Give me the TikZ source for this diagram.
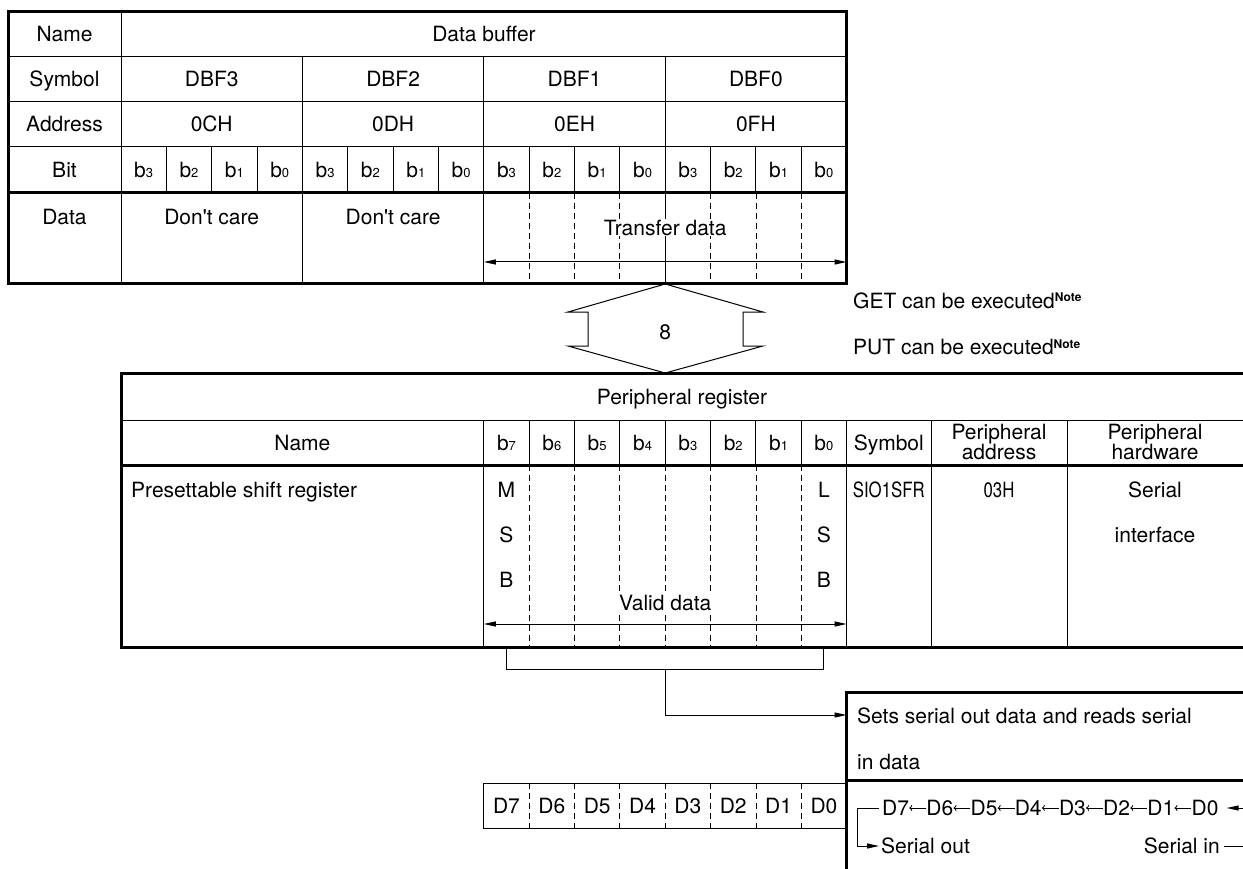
\documentclass[tikz,border=0pt]{standalone}
\usepackage{fontspec}
\setmainfont{TeX Gyre Heros}
\usetikzlibrary{arrows.meta}
\newcommand{\bitsub}[1]{b{\fontsize{13}{13}\selectfont #1}}
\newcommand{\notemark}{\raisebox{6.5pt}{\fontsize{12}{12}\selectfont\bfseries Note}}
\begin{document}
\begin{tikzpicture}[x=1pt,y=-1pt,font=\fontsize{21}{21}\selectfont,
  lbl/.style={inner sep=0pt,text height=15pt,text depth=0pt},
  twoline/.style={align=center,inner sep=0pt,anchor=north,font=\fontsize{21}{20}\selectfont},
  thinrule/.style={line width=1pt},
  thickrule/.style={line width=3pt},
  dashrule/.style={line width=0.8pt,dash pattern=on 6pt off 4pt},
  shiftarrow/.style={line width=0.8pt,-{To[length=3pt,width=6pt]}},
  >={Triangle[length=12pt,width=5pt]}]
\useasboundingbox (0,0) rectangle (1243,869);
\def\w{45.35}
% data buffer
\draw[thinrule] (8,57) -- (846.6,57) (8,102) -- (846.6,102) (8,147) -- (846.6,147) (121,12) -- (121,284);
\foreach \k in {1,2,3} \draw[thinrule] (121+\k*4*\w,57) -- (121+\k*4*\w,284);
\foreach \k in {1,...,15} \draw[thinrule] (121+\k*\w,147) -- (121+\k*\w,193);
\foreach \k in {9,10,11,13,14,15} \draw[dashrule] (121+\k*\w,193) -- (121+\k*\w,284);
\draw[thickrule] (8,193) -- (846.6,193);
\draw[thickrule] (8,12) rectangle (846.6,284);
\node[lbl] (bufname) at (64.5,34.5) {Name};
\node[lbl] (bufhead) at (484,34.5) {Data buffer};
\node[lbl] (bufsym) at (64.5,79.5) {Symbol};
\node[lbl] (bufadr) at (64.5,124.5) {Address};
\node[lbl] (bufbit) at (64.5,170) {Bit};
\node[lbl] (bufdata) at (64.5,217) {Data};
\foreach \s/\a [count=\i from 0] in {DBF3/0CH,DBF2/0DH,DBF1/0EH,DBF0/0FH} {
  \node[lbl] (dbf\i) at (121+\i*4*\w+2*\w,79.5) {\s};
  \node[lbl] (adr\i) at (121+\i*4*\w+2*\w,124.5) {\a};
  \foreach \b [count=\j from 0] in {3,2,1,0}
    \node[lbl] (bit\i\j) at (121+\i*4*\w+\j*\w+\w/2,170) {\bitsub{\b}};
}
\node[lbl] (care3) at (121+2*\w,217) {Don\textquotesingle t care};
\node[lbl] (care2) at (121+6*\w,217) {Don\textquotesingle t care};
\node[lbl,fill=white,inner sep=1pt] (xfer) at (665.2,228) {Transfer data};
\coordinate (xferL) at (483.8,262);
\coordinate (xferR) at (846.6,262);
\draw[thinrule,<->] (xferL) -- (xferR);
% 8-bit transfer
\draw[thinrule] (665.2,284) -- (568,312) -- (588,312) -- (588,346) -- (568,346) -- (665.2,373)
  -- (763,346) -- (743,346) -- (743,312) -- (763,312) -- cycle;
\node[lbl] (width) at (665.2,332) {8};
\node[lbl,anchor=west] (get) at (853,301) {GET can be executed\notemark};
\node[lbl,anchor=west] (put) at (853,347) {PUT can be executed\notemark};
% peripheral register
\draw[thinrule] (121,420) -- (1243,420);
\foreach \x in {483.8,846.6,931,1067} \draw[thinrule] (\x,420) -- (\x,647);
\foreach \k in {1,...,7} {
  \draw[thinrule] (483.8+\k*\w,420) -- (483.8+\k*\w,465);
  \draw[dashrule] (483.8+\k*\w,465) -- (483.8+\k*\w,647);
}
\draw[thickrule] (121,465) -- (1243,465);
\draw[thickrule] (1243,373) -- (121,373) -- (121,647) -- (1243,647);
\node[lbl] (regtitle) at (682,397) {Peripheral register};
\node[lbl] (regname) at (302.4,443) {Name};
\foreach \b [count=\j from 0] in {7,...,0}
  \node[lbl] (pb\b) at (483.8+\j*\w+\w/2,443) {\bitsub{\b}};
\node[lbl] (symhead) at (888.8,443) {Symbol};
\node[twoline] (adrhead) at (999,424) {Peripheral\\address};
\node[twoline] (hwhead) at (1155,424) {Peripheral\\hardware};
\node[lbl,anchor=west] (regbody) at (131,490) {Presettable shift register};
\foreach \c [count=\r from 0] in {M,S,B} \node[lbl] (msb\r) at (483.8+\w/2,490+\r*45) {\c};
\foreach \c [count=\r from 0] in {L,S,B} \node[lbl] (lsb\r) at (846.6-\w/2,490+\r*45) {\c};
\node[lbl] (sfr) at (888.8,490) {\scalebox{0.8}[1]{SIO1SFR}};
\node[lbl] (padr) at (999,490) {\scalebox{0.8}[1]{03H}};
\node[lbl] (hw1) at (1155,490) {Serial};
\node[lbl] (hw2) at (1155,535) {interface};
\node[lbl,fill=white,inner sep=1pt] (valid) at (665.2,603) {Valid data};
\coordinate (validL) at (483.8,624);
\coordinate (validR) at (846.6,624);
\draw[thinrule,<->] (validL) -- (validR);
% bracket to shift register box
\coordinate (brkL) at (483.8+\w/2,647);
\coordinate (brkR) at (846.6-\w/2,647);
\coordinate (brkM) at (665.2,669);
\coordinate (boxin) at (846.6,715);
\draw[thinrule] (brkL) -- ++(0,22) -| (brkR);
\draw[thinrule,->] (brkM) |- (boxin);
\draw[thickrule] (1243,692) -- (846.6,692) -- (846.6,869);
\draw[thickrule] (846.6,780) -- (1243,780);
\node[lbl,anchor=west] (sets1) at (857,716) {Sets serial out data and reads serial};
\node[lbl,anchor=west] (sets2) at (857,762) {in data};
% shift order
\foreach \d [count=\j from 0] in {7,...,0}
  \node[lbl,anchor=west] (s\d) at (882+\j*44.2,808) {D\d};
\foreach \d [evaluate=\d as \e using int(\d+1)] in {0,...,6}
  \draw[shiftarrow] (s\d.west) -- (s\e.east);
\node[lbl,anchor=west] (sout) at (881,846) {Serial out};
\node[lbl,anchor=east] (sin) at (1220,846) {Serial in};
\coordinate (sinR) at (1243,808);
\coordinate (sinend) at (1243,846);
\draw[thinrule,->] (sinR) -- ([xshift=8pt]s0.east);
\draw[thinrule,->] ([xshift=-3pt]s7.west) -- ++(-22,0) |- ([xshift=-2pt]sout.west);
\draw[thinrule] ([xshift=4pt]sin.east) -- (sinend);
% data register
\draw[thinrule] (483.8,783) rectangle (846.6,828);
\foreach \k in {1,...,7} \draw[dashrule] (483.8+\k*\w,783) -- (483.8+\k*\w,828);
\foreach \d [count=\j from 0] in {7,...,0}
  \node[lbl] (d\d) at (483.8+\j*\w+\w/2,806) {D\d};
\end{tikzpicture}
\end{document}
